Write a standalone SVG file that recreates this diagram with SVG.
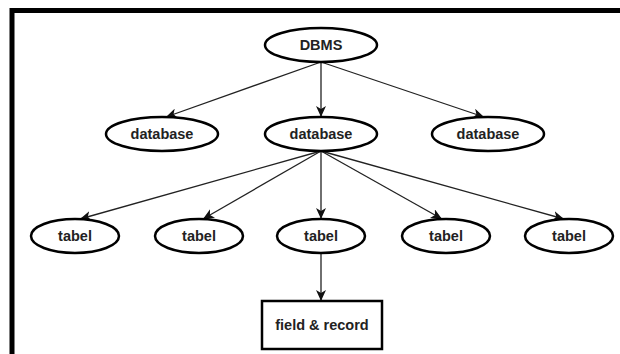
<svg xmlns="http://www.w3.org/2000/svg" width="620" height="354" viewBox="0 0 620 354">
<defs>
<style>
.frame{fill:none;stroke:#000;stroke-width:5}
.node ellipse,.node rect{fill:#fff;stroke:#000;stroke-width:2.5}
.node text{font-family:"Liberation Sans",Arial,sans-serif;font-size:14.5px;font-weight:bold;fill:#222;text-anchor:middle;dominant-baseline:central}
.edge{fill:none;stroke:#222;stroke-width:1.3;marker-end:url(#arr)}
</style>
<marker id="arr" markerUnits="userSpaceOnUse" markerWidth="12" markerHeight="10" viewBox="0 0 12 10" refX="11" refY="5" orient="auto">
<path d="M0,0 L11,5 L0,10 L3,5 z" fill="#111"/>
</marker>
</defs>
<rect width="620" height="354" fill="#fff"/>
<path class="frame" d="M12,356 V10.5 H622"/>
<g id="connectors">
<line class="edge" x1="321" y1="62" x2="166" y2="117"/>
<line class="edge" x1="321" y1="62" x2="321" y2="117"/>
<line class="edge" x1="321" y1="62" x2="484" y2="117"/>
<line class="edge" x1="321" y1="151" x2="80" y2="219"/>
<line class="edge" x1="321" y1="151" x2="203" y2="219"/>
<line class="edge" x1="321" y1="151" x2="321" y2="219"/>
<line class="edge" x1="321" y1="151" x2="442" y2="219"/>
<line class="edge" x1="321" y1="151" x2="564" y2="219"/>
<line class="edge" x1="321" y1="253" x2="321" y2="301"/>
</g>
<g id="dbms" class="node"><ellipse cx="321" cy="45" rx="56" ry="17"/><text x="321" y="45">DBMS</text></g>
<g id="database1" class="node"><ellipse cx="162" cy="134" rx="56" ry="17"/><text x="162" y="134">database</text></g>
<g id="database2" class="node"><ellipse cx="321" cy="134" rx="56" ry="17"/><text x="321" y="134">database</text></g>
<g id="database3" class="node"><ellipse cx="488" cy="134" rx="56" ry="17"/><text x="488" y="134">database</text></g>
<g id="tabel1" class="node"><ellipse cx="75" cy="236" rx="44" ry="17"/><text x="75" y="236">tabel</text></g>
<g id="tabel2" class="node"><ellipse cx="199" cy="236" rx="44" ry="17"/><text x="199" y="236">tabel</text></g>
<g id="tabel3" class="node"><ellipse cx="321" cy="236" rx="44" ry="17"/><text x="321" y="236">tabel</text></g>
<g id="tabel4" class="node"><ellipse cx="446" cy="236" rx="44" ry="17"/><text x="446" y="236">tabel</text></g>
<g id="tabel5" class="node"><ellipse cx="569" cy="236" rx="44" ry="17"/><text x="569" y="236">tabel</text></g>
<g id="field-record" class="node"><rect x="262" y="301" width="120" height="48"/><text x="322" y="325">field &amp; record</text></g>
</svg>
